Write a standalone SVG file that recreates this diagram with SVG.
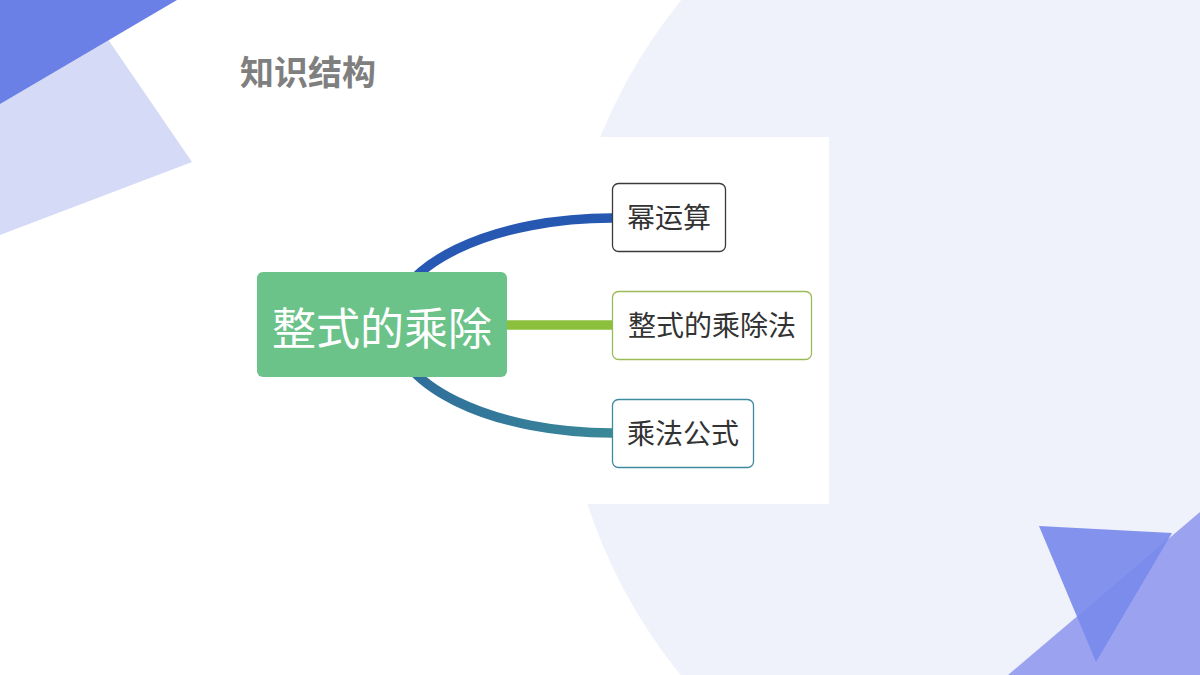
<svg xmlns="http://www.w3.org/2000/svg" width="1200" height="675" viewBox="0 0 1200 675">
<defs>
<style>
.title{font-family:"Noto Sans CJK SC","Noto Sans",sans-serif;font-weight:700;font-size:34px;fill:#7F7F7F}
.main{font-family:"Noto Sans CJK SC","Noto Sans",sans-serif;font-size:44px;fill:#FFFFFF}
.sub{font-family:"Noto Sans CJK SC","Noto Sans",sans-serif;font-size:28px;fill:#333333}
.box{fill:#FFFFFF;stroke-width:1.3}
.link{fill:none;stroke-width:9.5}
</style>
<linearGradient id="gTop" x1="390" y1="0" x2="612" y2="0" gradientUnits="userSpaceOnUse">
<stop offset="0" stop-color="#2858B4"/><stop offset="1" stop-color="#2558B0"/>
</linearGradient>
<linearGradient id="gBot" x1="390" y1="0" x2="612" y2="0" gradientUnits="userSpaceOnUse">
<stop offset="0" stop-color="#2E6B9C"/><stop offset="1" stop-color="#3A8898"/>
</linearGradient>
</defs>
<rect width="1200" height="675" fill="#FFFFFF"/>
<g id="background">
<circle cx="1096" cy="338" r="535" fill="#EFF2FB"/>
<polygon points="0,0 81,0 192,162 0,235" fill="#D5DAF7"/>
<polygon points="0,0 177,0 0,104" fill="#6B80E6"/>
<polygon points="1008,675 1200,512 1200,675" fill="#9BA3F0"/>
<polygon points="1039,526 1172,533 1096,662" fill="#7A8AEB" fill-opacity="0.92"/>
<rect x="250" y="137" width="579" height="367" fill="#FFFFFF"/>
</g>
<text class="title" x="240" y="85">知识结构</text>
<g id="connectors">
<path class="link" d="M 392 325 A 220 107 0 0 1 612 218" stroke="url(#gTop)"/>
<path class="link" d="M 392 325 A 220 108 0 0 0 612 433" stroke="url(#gBot)"/>
<path class="link" d="M 500 325 L 612 325" stroke="#8CC03C"/>
</g>
<g id="node-center">
<rect x="257" y="272" width="250" height="105" rx="6" fill="#6CC38A"/>
<text class="main" x="382" y="345" text-anchor="middle">整式的乘除</text>
</g>
<g id="node-1">
<rect class="box" x="612.5" y="183.5" width="113" height="68" rx="6" stroke="#3A3A3A"/>
<text class="sub" x="669" y="228" text-anchor="middle">幂运算</text>
</g>
<g id="node-2">
<rect class="box" x="612.5" y="291.5" width="199" height="68" rx="6" stroke="#9BBB59"/>
<text class="sub" x="712" y="336" text-anchor="middle">整式的乘除法</text>
</g>
<g id="node-3">
<rect class="box" x="612.5" y="399.5" width="141" height="68" rx="6" stroke="#3E8A9E"/>
<text class="sub" x="683" y="444" text-anchor="middle">乘法公式</text>
</g>
</svg>
